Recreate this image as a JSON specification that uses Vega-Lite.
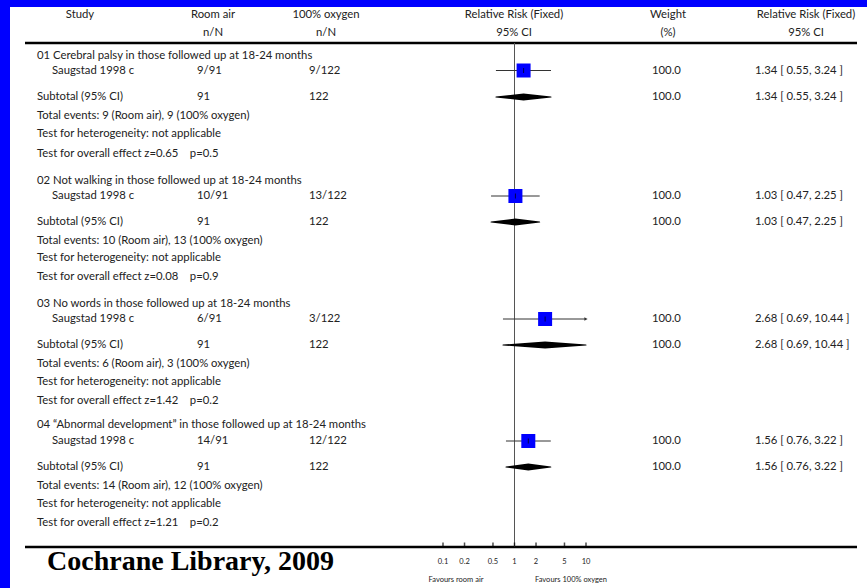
{
  "$schema": "https://vega.github.io/schema/vega-lite/v6.json",
  "width": 857,
  "height": 581,
  "autosize": "none",
  "padding": {"left": 10, "top": 7, "right": 0, "bottom": 0},
  "background": "#0000ff",
  "config": {
    "view": {"fill": "#ffffff", "stroke": null},
    "text": {"font": "Lato", "fontSize": 11.3, "color": "#222222"}
  },
  "datasets": {
    "hlines": [{"line": 2, "c": 0, "c2": 16}, {"line": 27, "c": 0, "c2": 16}],
    "heads": [
      {"line": 0, "c": 4, "t": "Study"},
      {"line": 0, "c": 6, "t": "Room air"},
      {"line": 0, "c": 8, "t": "100% oxygen"},
      {"line": 0, "c": 10, "t": "Relative Risk (Fixed)"},
      {"line": 0, "c": 13, "t": "Weight"},
      {"line": 0, "c": 15, "t": "Relative Risk (Fixed)"},
      {"line": 1, "c": 6, "t": "n/N"},
      {"line": 1, "c": 8, "t": "n/N"},
      {"line": 1, "c": 10, "t": "95% CI"},
      {"line": 1, "c": 13, "t": "(%)"},
      {"line": 1, "c": 15, "t": "95% CI"}
    ],
    "cells": [
      {"line": 3, "c": 1, "t": "01 Cerebral palsy in those followed up at 18-24 months"},
      {"line": 4, "c": 3, "t": "Saugstad 1998 c"},
      {"line": 4, "c": 5, "t": "9/91"},
      {"line": 4, "c": 7, "t": "9/122"},
      {"line": 4, "c": 12, "t": "100.0"},
      {"line": 4, "c": 14, "t": "1.34 [ 0.55, 3.24 ]"},
      {"line": 5, "c": 1, "t": "Subtotal (95% CI)"},
      {"line": 5, "c": 5, "t": "91"},
      {"line": 5, "c": 7, "t": "122"},
      {"line": 5, "c": 12, "t": "100.0"},
      {"line": 5, "c": 14, "t": "1.34 [ 0.55, 3.24 ]"},
      {"line": 6, "c": 1, "t": "Total events: 9 (Room air), 9 (100% oxygen)"},
      {"line": 7, "c": 1, "t": "Test for heterogeneity: not applicable"},
      {"line": 8, "c": 1, "t": "Test for overall effect z=0.65\u00a0\u00a0\u00a0\u00a0p=0.5"},
      {"line": 9, "c": 1, "t": "02 Not walking in those followed up at 18-24 months"},
      {"line": 10, "c": 3, "t": "Saugstad 1998 c"},
      {"line": 10, "c": 5, "t": "10/91"},
      {"line": 10, "c": 7, "t": "13/122"},
      {"line": 10, "c": 12, "t": "100.0"},
      {"line": 10, "c": 14, "t": "1.03 [ 0.47, 2.25 ]"},
      {"line": 11, "c": 1, "t": "Subtotal (95% CI)"},
      {"line": 11, "c": 5, "t": "91"},
      {"line": 11, "c": 7, "t": "122"},
      {"line": 11, "c": 12, "t": "100.0"},
      {"line": 11, "c": 14, "t": "1.03 [ 0.47, 2.25 ]"},
      {"line": 12, "c": 1, "t": "Total events: 10 (Room air), 13 (100% oxygen)"},
      {"line": 13, "c": 1, "t": "Test for heterogeneity: not applicable"},
      {"line": 14, "c": 1, "t": "Test for overall effect z=0.08\u00a0\u00a0\u00a0\u00a0p=0.9"},
      {"line": 15, "c": 1, "t": "03 No words in those followed up at 18-24 months"},
      {"line": 16, "c": 3, "t": "Saugstad 1998 c"},
      {"line": 16, "c": 5, "t": "6/91"},
      {"line": 16, "c": 7, "t": "3/122"},
      {"line": 16, "c": 12, "t": "100.0"},
      {"line": 16, "c": 14, "t": "2.68 [ 0.69, 10.44 ]"},
      {"line": 17, "c": 1, "t": "Subtotal (95% CI)"},
      {"line": 17, "c": 5, "t": "91"},
      {"line": 17, "c": 7, "t": "122"},
      {"line": 17, "c": 12, "t": "100.0"},
      {"line": 17, "c": 14, "t": "2.68 [ 0.69, 10.44 ]"},
      {"line": 18, "c": 1, "t": "Total events: 6 (Room air), 3 (100% oxygen)"},
      {"line": 19, "c": 1, "t": "Test for heterogeneity: not applicable"},
      {"line": 20, "c": 1, "t": "Test for overall effect z=1.42\u00a0\u00a0\u00a0\u00a0p=0.2"},
      {"line": 21, "c": 1, "t": "04 \u201cAbnormal development\u201d in those followed up at 18-24 months"},
      {"line": 22, "c": 3, "t": "Saugstad 1998 c"},
      {"line": 22, "c": 5, "t": "14/91"},
      {"line": 22, "c": 7, "t": "12/122"},
      {"line": 22, "c": 12, "t": "100.0"},
      {"line": 22, "c": 14, "t": "1.56 [ 0.76, 3.22 ]"},
      {"line": 23, "c": 1, "t": "Subtotal (95% CI)"},
      {"line": 23, "c": 5, "t": "91"},
      {"line": 23, "c": 7, "t": "122"},
      {"line": 23, "c": 12, "t": "100.0"},
      {"line": 23, "c": 14, "t": "1.56 [ 0.76, 3.22 ]"},
      {"line": 24, "c": 1, "t": "Total events: 14 (Room air), 12 (100% oxygen)"},
      {"line": 25, "c": 1, "t": "Test for heterogeneity: not applicable"},
      {"line": 26, "c": 1, "t": "Test for overall effect z=1.21\u00a0\u00a0\u00a0\u00a0p=0.2"}
    ],
    "foot": [
      {"line": 29, "c": 9, "t": "Favours room air"},
      {"line": 29, "c": 11, "t": "Favours 100% oxygen"}
    ],
    "credit": [{"line": 28, "c": 2, "t": "Cochrane Library, 2009"}],
    "refline": [{"rr": 1, "line": 2, "line2": 27}],
    "ticks": [
      {"rr": 0.1, "line": 27}, {"rr": 0.2, "line": 27}, {"rr": 0.5, "line": 27},
      {"rr": 1, "line": 27}, {"rr": 2, "line": 27}, {"rr": 5, "line": 27}, {"rr": 10, "line": 27}
    ],
    "ticklabels": [
      {"rr": 0.1, "line": 28, "t": "0.1"}, {"rr": 0.2, "line": 28, "t": "0.2"}, {"rr": 0.5, "line": 28, "t": "0.5"},
      {"rr": 1, "line": 28, "t": "1"}, {"rr": 2, "line": 28, "t": "2"}, {"rr": 5, "line": 28, "t": "5"}, {"rr": 10, "line": 28, "t": "10"}
    ],
    "results": [
      {"line": 4, "kind": "study", "est": 1.34, "lo": 0.55, "hi": 3.24},
      {"line": 5, "kind": "total", "est": 1.34, "lo": 0.55, "hi": 3.24},
      {"line": 10, "kind": "study", "est": 1.03, "lo": 0.47, "hi": 2.25},
      {"line": 11, "kind": "total", "est": 1.03, "lo": 0.47, "hi": 2.25},
      {"line": 16, "kind": "study", "est": 2.68, "lo": 0.69, "hi": 10.44},
      {"line": 17, "kind": "total", "est": 2.68, "lo": 0.69, "hi": 10.44},
      {"line": 22, "kind": "study", "est": 1.56, "lo": 0.76, "hi": 3.22},
      {"line": 23, "kind": "total", "est": 1.56, "lo": 0.76, "hi": 3.22}
    ]
  },
  "encoding": {
    "y": {
      "field": "line",
      "type": "quantitative",
      "axis": null,
      "scale": {
        "domain": [0,1,2,3,4,5,6,7,8,9,10,11,12,13,14,15,16,17,18,19,20,21,22,23,24,25,26,27,28,29],
        "range": [8,26,36,49,63.5,90,109,127,146.5,174,189,215,233.5,251,270,297,312,338,356.5,375,393.5,418,434,460,478.5,497,515.5,540,555,573],
        "nice": false,
        "zero": false
      }
    }
  },
  "layer": [
    {
      "encoding": {
        "x": {
          "field": "c",
          "type": "quantitative",
          "axis": null,
          "scale": {
            "domain": [0,1,2,3,4,5,6,7,8,9,10,11,12,13,14,15,16],
            "range": [15,27,37,42,70,187,203,299,316,446,504,561,642,658,745,796,847],
            "nice": false,
            "zero": false
          }
        }
      },
      "layer": [
        {
          "data": {"name": "hlines"},
          "mark": {"type": "rule", "color": "#000000", "strokeWidth": 2.5},
          "encoding": {"x2": {"field": "c2"}}
        },
        {
          "data": {"name": "cells"},
          "mark": {"type": "text", "align": "left", "baseline": "middle"},
          "encoding": {"text": {"field": "t"}}
        },
        {
          "data": {"name": "heads"},
          "mark": {"type": "text", "align": "center", "baseline": "middle"},
          "encoding": {"text": {"field": "t"}}
        },
        {
          "data": {"name": "foot"},
          "mark": {"type": "text", "align": "center", "baseline": "middle", "fontSize": 7.5},
          "encoding": {"text": {"field": "t"}}
        },
        {
          "data": {"name": "credit"},
          "mark": {"type": "text", "align": "left", "baseline": "middle", "font": "Liberation Serif", "fontWeight": "bold", "fontSize": 28, "color": "#000000"},
          "encoding": {"text": {"field": "t"}}
        }
      ]
    },
    {
      "layer": [
        {
          "data": {"name": "refline"},
          "mark": {"type": "rule", "color": "#555555", "strokeWidth": 1},
          "encoding": {
            "x": {"field": "rr", "type": "quantitative", "axis": null, "scale": {"type": "log", "domain": [0.1, 10], "range": [433, 576], "clamp": true, "nice": false}},
            "y2": {"field": "line2"}
          }
        },
        {
          "data": {"name": "ticks"},
          "mark": {"type": "tick", "orient": "vertical", "size": 5, "thickness": 1.5, "color": "#000000", "yOffset": -2},
          "encoding": {
            "x": {"field": "rr", "type": "quantitative", "axis": null, "scale": {"type": "log", "domain": [0.1, 10], "range": [433, 576], "clamp": true, "nice": false}}
          }
        },
        {
          "data": {"name": "ticklabels"},
          "mark": {"type": "text", "align": "center", "baseline": "middle", "fontSize": 7.5},
          "encoding": {
            "x": {"field": "rr", "type": "quantitative", "axis": null, "scale": {"type": "log", "domain": [0.1, 10], "range": [433, 576], "clamp": true, "nice": false}},
            "text": {"field": "t"}
          }
        },
        {
          "data": {"name": "results"},
          "transform": [{"filter": "datum.kind === 'study'"}],
          "mark": {"type": "rule", "color": "#333333", "strokeWidth": 1},
          "encoding": {
            "x": {"field": "lo", "type": "quantitative", "axis": null, "scale": {"type": "log", "domain": [0.1, 10], "range": [433, 576], "clamp": true, "nice": false}},
            "x2": {"field": "hi"}
          }
        },
        {
          "data": {"name": "results"},
          "transform": [{"filter": "datum.kind === 'study' && datum.hi > 10"}],
          "mark": {"type": "point", "shape": "triangle-right", "filled": true, "size": 14, "color": "#333333", "opacity": 1},
          "encoding": {
            "x": {"field": "hi", "type": "quantitative", "axis": null, "scale": {"type": "log", "domain": [0.1, 10], "range": [433, 576], "clamp": true, "nice": false}}
          }
        },
        {
          "data": {"name": "results"},
          "transform": [{"filter": "datum.kind === 'study'"}],
          "mark": {"type": "point", "shape": "square", "filled": true, "size": 196, "color": "#0000ff", "opacity": 1},
          "encoding": {
            "x": {"field": "est", "type": "quantitative", "axis": null, "scale": {"type": "log", "domain": [0.1, 10], "range": [433, 576], "clamp": true, "nice": false}}
          }
        },
        {
          "data": {"name": "results"},
          "transform": [{"filter": "datum.kind === 'study'"}],
          "mark": {"type": "tick", "orient": "vertical", "size": 5, "thickness": 1, "color": "#000000"},
          "encoding": {
            "x": {"field": "est", "type": "quantitative", "axis": null, "scale": {"type": "log", "domain": [0.1, 10], "range": [433, 576], "clamp": true, "nice": false}}
          }
        },
        {
          "data": {"name": "results"},
          "transform": [
            {"filter": "datum.kind === 'total'"},
            {"fold": ["lo", "est", "hi"], "as": ["part", "val"]}
          ],
          "mark": {"type": "trail", "color": "#000000"},
          "encoding": {
            "x": {"field": "val", "type": "quantitative", "axis": null, "scale": {"type": "log", "domain": [0.1, 10], "range": [433, 576], "clamp": true, "nice": false}},
            "size": {"field": "part", "type": "nominal", "legend": null, "scale": {"type": "ordinal", "domain": ["lo", "est", "hi"], "range": [0, 7, 0]}},
            "detail": {"field": "line", "type": "nominal"}
          }
        }
      ]
    }
  ],
  "resolve": {"scale": {"x": "independent"}}
}
